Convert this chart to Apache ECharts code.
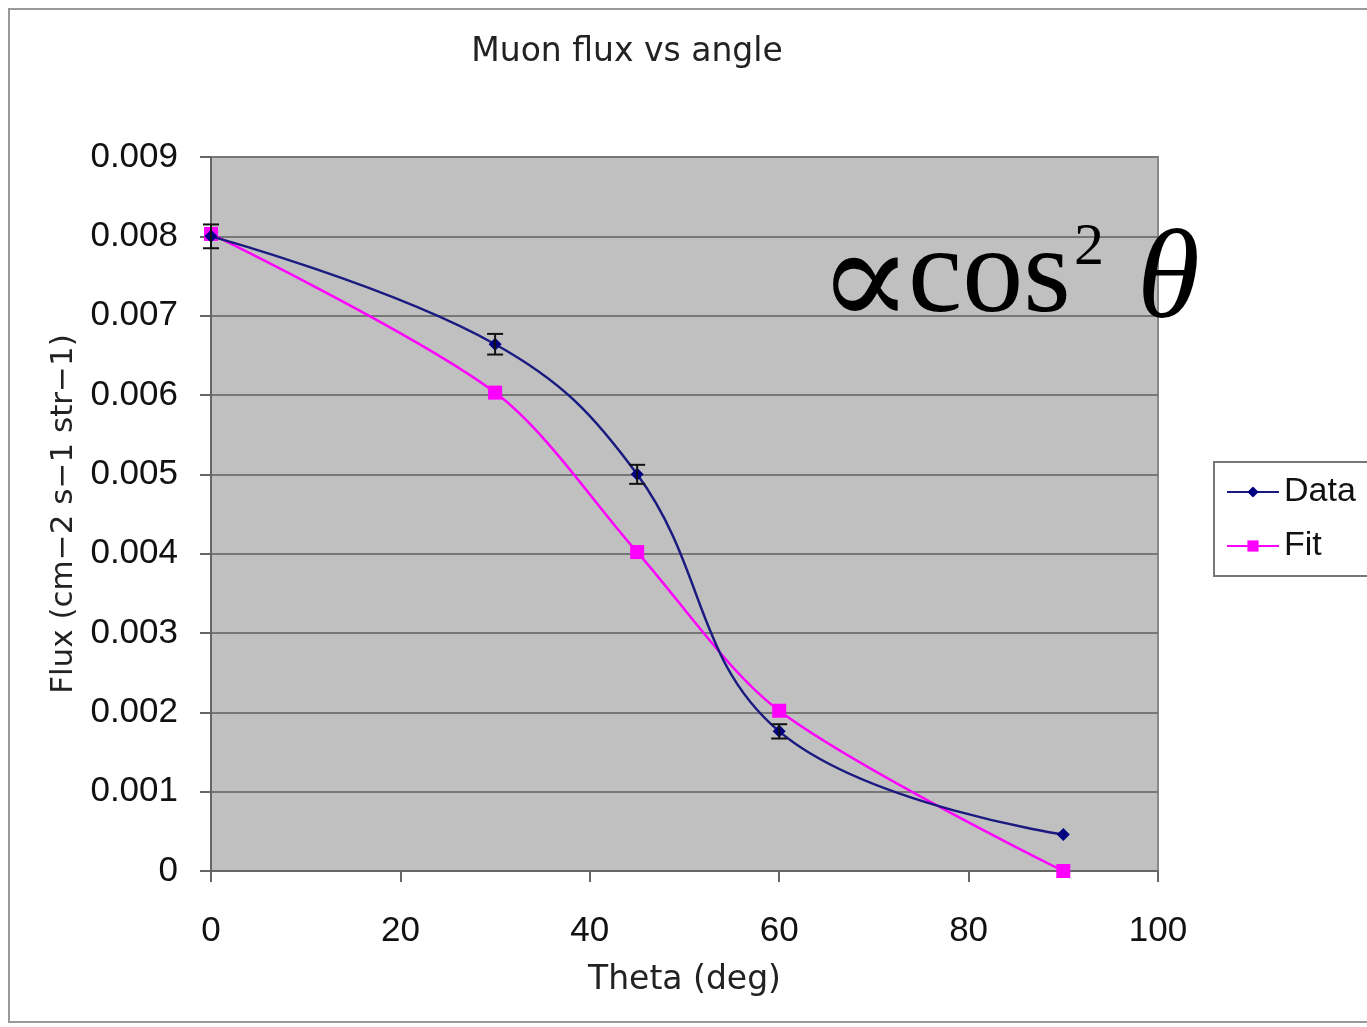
<!DOCTYPE html>
<html>
<head>
<meta charset="utf-8">
<script src="https://cdn.jsdelivr.net/npm/echarts@6/dist/echarts.min.js"></script>
<style>
  html, body { margin: 0; padding: 0; background: #fff; }
  #main { width: 1367px; height: 1027px; }
</style>
</head>
<body>
<div id="main"></div>
<script>
var theta = [0, 30, 45, 60, 90];
var dataFlux = [0.0080, 0.00664, 0.0050, 0.00176, 0.00046];
var dataErr = [0.00015, 0.00013, 0.00012, 0.00009, 0];
var fitFlux = [0.00803, 0.00603, 0.00402, 0.00202, 0];

var myChart = echarts.init(document.getElementById("main"));
var font = "Liberation Sans, Arial, sans-serif";
var wide = "DejaVu Sans, Verdana, sans-serif";
var serif = "Liberation Serif, Times New Roman, serif";

var dataPts = theta.map(function (t, i) { return [t, dataFlux[i]]; });
var fitPts = theta.map(function (t, i) { return [t, fitFlux[i]]; });
var errPts = theta.map(function (t, i) { return [t, dataFlux[i] - dataErr[i], dataFlux[i] + dataErr[i]]; });

var option = {
    backgroundColor: "#fff",
    animation: false,
    title: {
        text: "Muon flux vs angle",
        left: 622,
        top: 31,
        textAlign: "center",
        textStyle: { fontFamily: wide, fontSize: 33, fontWeight: "normal", color: "#222" },
    },
    graphic: [
        {
            type: "rect",
            shape: { x: 9, y: 9, width: 1400, height: 1013 },
            style: { fill: null, stroke: "#999", lineWidth: 2 },
            silent: true,
        },
        {
            type: "text", left: 818, top: 220, z: 100,
            style: { text: "∝", fontFamily: "DejaVu Serif, serif", fontSize: 140, fill: "#000" },
        },
        {
            type: "text", left: 908, top: 218, z: 100,
            style: { text: "cos", fontFamily: serif, fontSize: 122, fill: "#000" },
        },
        {
            type: "text", left: 1074, top: 218, z: 100,
            style: { text: "2", fontFamily: serif, fontSize: 60, fill: "#000" },
        },
        {
            type: "text", left: 1137, top: 219, z: 100,
            style: { text: "θ", fontFamily: serif, fontSize: 128, fontStyle: "italic", fill: "#000" },
        },
    ],
    legend: {
        data: ["Data", "Fit"],
        orient: "vertical",
        left: 1214,
        top: 462,
        padding: [13, 14, 13, 12],
        itemGap: 20,
        itemWidth: 52,
        itemHeight: 14,
        borderColor: "#777",
        borderWidth: 2,
        textStyle: { fontFamily: font, fontSize: 34, color: "#111" },
    },
    grid: {
        left: 211,
        right: 209,
        top: 157,
        bottom: 156,
        show: true,
        backgroundColor: "#c0c0c0",
        borderColor: "#888",
        borderWidth: 2,
    },
    xAxis: {
        type: "value",
        min: 0,
        max: 100,
        interval: 20,
        name: "Theta (deg)",
        nameLocation: "middle",
        nameGap: 93,
        nameTextStyle: { fontFamily: wide, fontSize: 33, color: "#222" },
        axisLine: { lineStyle: { color: "#666", width: 2 } },
        axisTick: { inside: false, length: 11, lineStyle: { color: "#666", width: 2 } },
        axisLabel: { fontFamily: font, fontSize: 35, color: "#111", margin: 43 },
        splitLine: { show: false },
    },
    yAxis: {
        type: "value",
        min: 0,
        max: 0.009,
        interval: 0.001,
        name: "Flux (cm−2 s−1 str−1)",
        nameLocation: "middle",
        nameGap: 122,
        nameTextStyle: { fontFamily: wide, fontSize: 31, color: "#222" },
        axisLine: { show: true, lineStyle: { color: "#666", width: 2 } },
        axisTick: { show: true, length: 11, lineStyle: { color: "#666", width: 2 } },
        axisLabel: {
            fontFamily: font,
            fontSize: 35,
            color: "#111",
            margin: 33,
            formatter: function (v) { return v === 0 ? "0" : v.toFixed(3); },
        },
        splitLine: { show: true, lineStyle: { color: "#777", width: 2 } },
    },
    series: [
        {
            name: "Data",
            type: "line",
            smooth: 0.4,
            data: dataPts,
            symbol: "diamond",
            symbolSize: 13,
            lineStyle: { color: "#1a1a80", width: 2.5 },
            itemStyle: { color: "#000080" },
            z: 3,
        },
        {
            name: "Fit",
            type: "line",
            smooth: 0.3,
            data: fitPts,
            symbol: "rect",
            symbolSize: 14,
            lineStyle: { color: "#ff00ff", width: 2.5 },
            itemStyle: { color: "#ff00ff" },
            z: 2,
        },
        {
            type: "custom",
            name: "err",
            data: errPts,
            z: 4,
            renderItem: function (params, api) {
                var x = api.value(0);
                var lo = api.coord([x, api.value(1)]);
                var hi = api.coord([x, api.value(2)]);
                if (Math.abs(hi[1] - lo[1]) < 1) return null;
                var w = 8;
                var st = { stroke: "#111", lineWidth: 2 };
                return {
                    type: "group",
                    children: [
                        { type: "line", shape: { x1: lo[0], y1: lo[1], x2: hi[0], y2: hi[1] }, style: st },
                        { type: "line", shape: { x1: lo[0] - w, y1: lo[1], x2: lo[0] + w, y2: lo[1] }, style: st },
                        { type: "line", shape: { x1: hi[0] - w, y1: hi[1], x2: hi[0] + w, y2: hi[1] }, style: st },
                    ],
                };
            },
        },
    ],
};
myChart.setOption(option);
</script>
</body>
</html>
